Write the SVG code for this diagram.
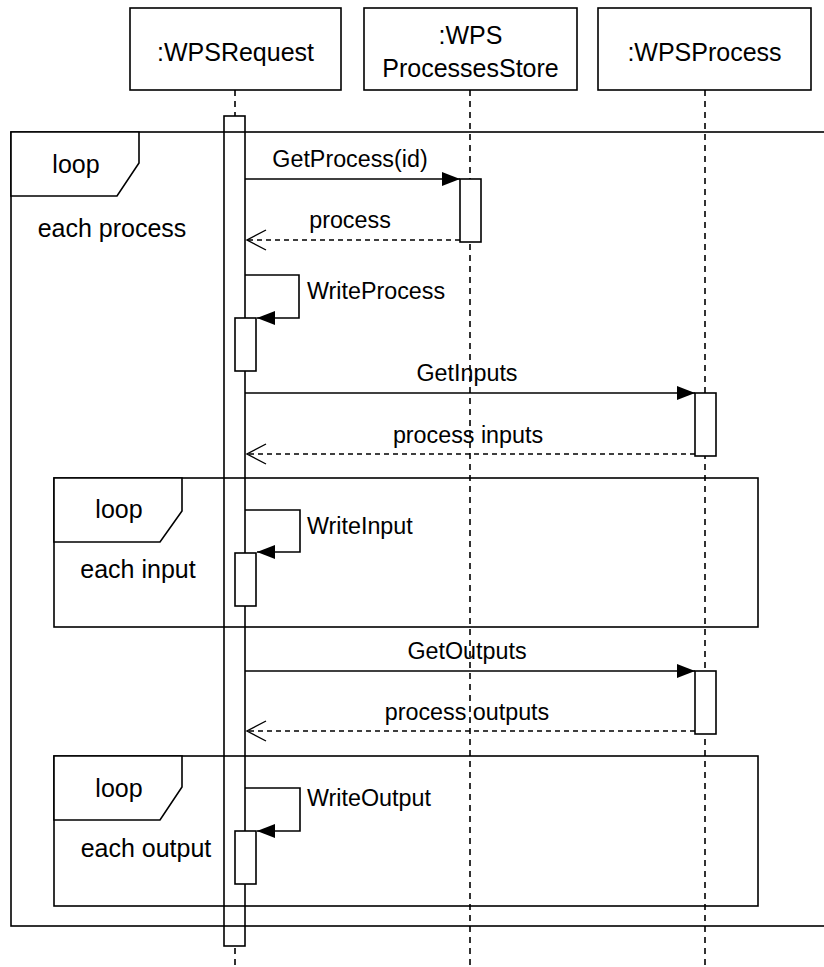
<svg xmlns="http://www.w3.org/2000/svg" width="824" height="967" viewBox="0 0 824 967">
  <defs>
    <marker id="filled" markerWidth="18" markerHeight="14" refX="18" refY="7" orient="auto" markerUnits="userSpaceOnUse">
      <path d="M0,0 L18,7 L0,14 Z" fill="#000"/>
    </marker>
    <marker id="open" markerWidth="22" markerHeight="24" refX="20" refY="12" orient="auto" markerUnits="userSpaceOnUse">
      <path d="M1,2 L20,12 L1,22" fill="none" stroke="#000" stroke-width="1.4"/>
    </marker>
    <style>
      text { font-family: "Liberation Sans", Arial, Helvetica, sans-serif; fill: #000; }
      .head { font-size: 25px; text-anchor: middle; }
      .lbl { font-size: 25px; }
      .msg { font-size: 23.3px; }
      .mid { text-anchor: middle; }
      .box { fill: #fff; stroke: #000; stroke-width: 1.6; }
      .life { stroke: #000; stroke-width: 1.6; stroke-dasharray: 6 5; fill: none; }
      .call { stroke: #000; stroke-width: 1.6; fill: none; marker-end: url(#filled); }
      .ret { stroke: #000; stroke-width: 1.5; stroke-dasharray: 5 4; fill: none; marker-end: url(#open); }
      .frame { fill: none; stroke: #000; stroke-width: 1.6; }
      .tab { fill: #fff; stroke: #000; stroke-width: 1.6; }
    </style>
  </defs>

  <!-- lifelines -->
  <g id="lifelines">
    <line class="life" x1="235" y1="90" x2="235" y2="967"/>
    <line class="life" x1="470" y1="90" x2="470" y2="967"/>
    <line class="life" x1="705" y1="90" x2="705" y2="967"/>
  </g>

  <!-- participants -->
  <g id="wpsrequest">
    <rect class="box" x="130" y="8" width="211" height="82"/>
    <text class="head" x="235.5" y="61">:WPSRequest</text>
  </g>
  <g id="wpsprocessesstore">
    <rect class="box" x="364" y="8" width="213" height="82"/>
    <text class="head" x="470.5" y="44">:WPS</text>
    <text class="head" x="470.5" y="77">ProcessesStore</text>
  </g>
  <g id="wpsprocess">
    <rect class="box" x="598" y="8" width="213" height="82"/>
    <text class="head" x="704.5" y="61">:WPSProcess</text>
  </g>

  <!-- activation bars -->
  <g id="activations">
    <rect class="box" x="224" y="116" width="21" height="830"/>
    <rect class="box" x="460" y="179" width="21" height="63"/>
    <rect class="box" x="235" y="318" width="21" height="53"/>
    <rect class="box" x="695" y="393" width="21" height="63"/>
    <rect class="box" x="235" y="553" width="21" height="53"/>
    <rect class="box" x="695" y="671" width="21" height="63"/>
    <rect class="box" x="235" y="831" width="21" height="53"/>
  </g>

  <!-- messages -->
  <g id="connectors">
    <line class="call" x1="245" y1="179" x2="460" y2="179"/>
    <line class="ret" x1="460" y1="240" x2="247" y2="240"/>
    <polyline class="call" points="245,275 299,275 299,318 257,318"/>
    <line class="call" x1="245" y1="393" x2="695" y2="393"/>
    <line class="ret" x1="695" y1="454" x2="247" y2="454"/>
    <polyline class="call" points="245,510 300,510 300,552 257,552"/>
    <line class="call" x1="245" y1="671" x2="695" y2="671"/>
    <line class="ret" x1="695" y1="731" x2="247" y2="731"/>
    <polyline class="call" points="245,788 300,788 300,831 257,831"/>
  </g>

  <g id="message-labels">
    <text class="msg mid" x="350" y="167">GetProcess(id)</text>
    <text class="msg mid" x="350" y="228">process</text>
    <text class="msg" x="307" y="299">WriteProcess</text>
    <text class="msg mid" x="467" y="381">GetInputs</text>
    <text class="msg mid" x="468" y="443">process inputs</text>
    <text class="msg" x="307" y="534">WriteInput</text>
    <text class="msg mid" x="467" y="659">GetOutputs</text>
    <text class="msg mid" x="467" y="720">process outputs</text>
    <text class="msg" x="307" y="806">WriteOutput</text>
  </g>

  <!-- combined fragments -->
  <g id="loop-process">
    <rect class="frame" x="11" y="132" width="830" height="794"/>
    <path class="tab" d="M11,132 L139,132 L139,163 L117,196 L11,196 Z"/>
    <text class="lbl mid" x="76" y="173">loop</text>
    <text class="lbl mid" x="112" y="237">each process</text>
  </g>
  <g id="loop-input">
    <rect class="frame" x="54" y="478" width="704" height="149"/>
    <path class="tab" d="M54,478 L182,478 L182,511 L160,542 L54,542 Z"/>
    <text class="lbl mid" x="119" y="518">loop</text>
    <text class="lbl mid" x="138" y="578">each input</text>
  </g>
  <g id="loop-output">
    <rect class="frame" x="54" y="756" width="704" height="150"/>
    <path class="tab" d="M54,756 L182,756 L182,787 L160,820 L54,820 Z"/>
    <text class="lbl mid" x="119" y="797">loop</text>
    <text class="lbl mid" x="146" y="857">each output</text>
  </g>
</svg>
